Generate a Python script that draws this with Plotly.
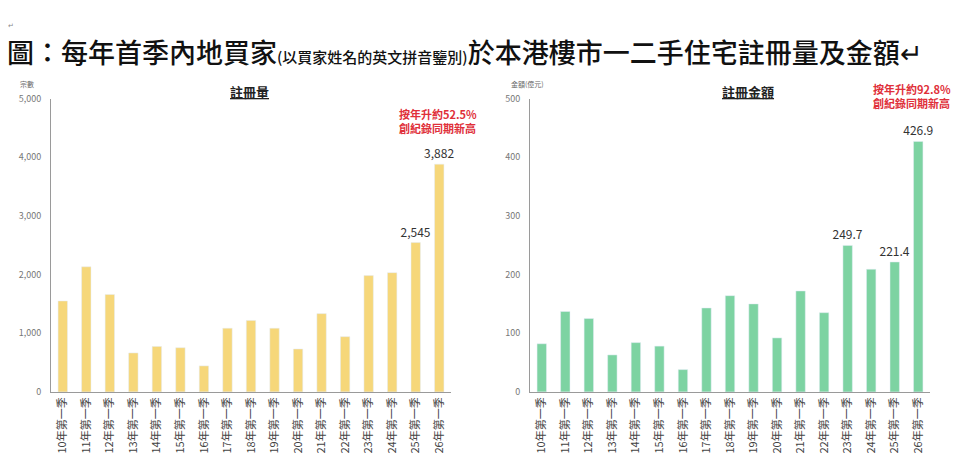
import plotly.graph_objects as go

quarters = ["10年第一季", "11年第一季", "12年第一季", "13年第一季", "14年第一季", "15年第一季",
            "16年第一季", "17年第一季", "18年第一季", "19年第一季", "20年第一季", "21年第一季",
            "22年第一季", "23年第一季", "24年第一季", "25年第一季", "26年第一季"]
volume = [1550, 2132, 1661, 664, 775, 753, 443, 1085, 1218, 1085, 731, 1334, 941, 1982, 2032, 2545, 3882]
amount = [82, 137, 125, 63, 84, 78, 38, 143, 164, 150, 92, 172, 135, 249.7, 209, 221.4, 426.9]
volume_labels = [""] * 15 + ["2,545", "3,882"]
amount_labels = [""] * 13 + ["249.7", "", "221.4", "426.9"]

FONT = "Noto Sans CJK TC"
YELLOW = "#F6D77A"
GREEN = "#7DD3A2"
RED = "#E0303A"

W, H, OFF = 944, 454, 8


def px(x):
    return (x - OFF) / W


def py(y):
    return (H - (y - OFF)) / H


fig = go.Figure()
fig.add_trace(go.Bar(x=quarters, y=volume, marker_color=YELLOW, text=volume_labels,
                     textposition="outside", cliponaxis=False, constraintext="none",
                     textfont=dict(family=FONT, size=12, color="#333"),
                     xaxis="x", yaxis="y", showlegend=False))
fig.add_trace(go.Bar(x=quarters, y=amount, marker_color=GREEN, text=amount_labels,
                     textposition="outside", cliponaxis=False, constraintext="none",
                     textfont=dict(family=FONT, size=12, color="#333"),
                     xaxis="x2", yaxis="y2", showlegend=False))

axis_common = dict(showgrid=False, zeroline=False, showline=True, linecolor="#9a9a9a",
                   linewidth=1, ticks="", tickfont=dict(family=FONT, size=9, color="#777"))
xaxis_common = dict(showgrid=False, zeroline=False, showline=True, linecolor="#9a9a9a",
                    linewidth=1, ticks="", tickangle=-90, tickfont=dict(family=FONT, size=11, color="#444"))

fig.update_layout(
    width=W, height=H, margin=dict(l=0, r=0, t=0, b=0),
    paper_bgcolor="white", plot_bgcolor="white", bargap=0.6,
    font=dict(family=FONT),
    xaxis=dict(domain=[px(51), px(451)], anchor="y", **xaxis_common),
    yaxis=dict(domain=[py(396), py(94)], anchor="x", range=[0, 5000],
               tickvals=[0, 1000, 2000, 3000, 4000, 5000], tickformat=",", ticklabelstandoff=7, **axis_common),
    xaxis2=dict(domain=[px(530), px(930)], anchor="y2", **xaxis_common),
    yaxis2=dict(domain=[py(396), py(94)], anchor="x2", range=[0, 500],
                tickvals=[0, 100, 200, 300, 400, 500], ticklabelstandoff=7, **axis_common),
)


def note(text, x, y, size, color, weight="normal", xanchor="center", align="center"):
    return dict(text=text, xref="paper", yref="paper", x=px(x), y=py(y), xanchor=xanchor,
                yanchor="middle", showarrow=False, align=align,
                font=dict(family=FONT, size=size, color=color, weight=weight))


ann = [
    note("圖：每年首季內地買家<span style='font-size:15px'>(以買家姓名的英文拼音鑒別)</span>於本港樓市一二手住宅註冊量及金額↵",
         5, 46, 27, "#111", weight=500, xanchor="left"),
    note("↵", 6, 18, 7, "#888", xanchor="left"),
    note("<u>註冊量</u>", 250, 87, 13, "#222", weight="bold"),
    note("<u>註冊金額</u>", 748, 87, 13, "#222", weight="bold"),
    note("宗數", 27, 79, 7, "#666"),
    note("金額(億元)", 527, 79, 7, "#666"),
    note("按年升約52.5%<br>創紀錄同期新高", 438, 117, 11, RED, weight="bold", align="left"),
    note("按年升約92.8%<br>創紀錄同期新高", 912, 91, 11, RED, weight="bold", align="left"),
]
fig.update_layout(annotations=ann)

fig.write_html("out.html")
